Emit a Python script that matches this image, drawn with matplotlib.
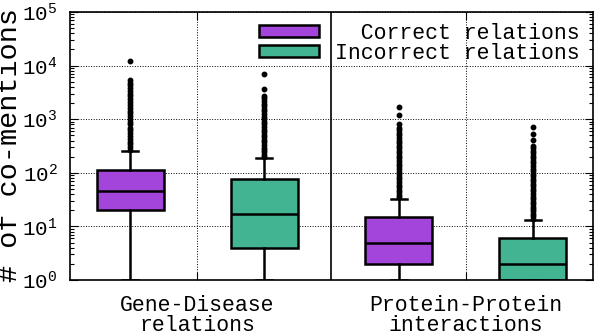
import matplotlib
matplotlib.use('Agg')
import matplotlib.pyplot as plt
from matplotlib.patches import Patch

plt.rcParams['font.family'] = ['Liberation Mono', 'DejaVu Sans Mono']

# categories and series
groups = ['Gene-Disease\nrelations', 'Protein-Protein\ninteractions']
series = ['Correct relations', 'Incorrect relations']
colors = ['#a344db', '#43b491']

# box statistics (order: GD correct, GD incorrect, PP correct, PP incorrect)
q1 = [20, 4, 2, 1]
med = [46, 17, 5, 2]
q3 = [115, 75, 15, 6]
whislo = [1, 1, 1, 1]
whishi = [260, 185, 33, 13]
fliers = [
    [270, 300, 340, 380, 430, 490, 550, 620, 700, 800, 900, 1000, 1150, 1300,
     1450, 1650, 1850, 2100, 2400, 2700, 3000, 3400, 3800, 4300, 4800, 5300, 12000],
    [195, 215, 240, 265, 295, 330, 370, 410, 460, 510, 570, 640, 710, 800, 890,
     1000, 1120, 1250, 1400, 1550, 1750, 1950, 2200, 2450, 2700, 3600, 6900],
    [35, 39, 43, 48, 54, 60, 67, 75, 84, 94, 105, 118, 132, 148, 165, 185, 205,
     230, 260, 290, 320, 360, 400, 450, 500, 560, 630, 700, 830, 1180, 1690],
    [14, 15.5, 17, 19, 21, 23.5, 26, 29, 32, 36, 40, 45, 50, 56, 62, 70, 78, 87,
     97, 108, 120, 135, 150, 165, 185, 205, 230, 255, 285, 320, 410, 520, 710],
]

stats = []
for i in range(4):
    stats.append({'q1': q1[i], 'med': med[i], 'q3': q3[i],
                  'whislo': whislo[i], 'whishi': whishi[i], 'fliers': fliers[i]})

fig = plt.figure(figsize=(5.96, 3.31), dpi=100)
ax = fig.add_axes([70 / 596, 51 / 331, 523 / 596, 268 / 331])

lw = 1.8
bp = ax.bxp(stats, positions=[1, 2, 3, 4], widths=0.5, patch_artist=True,
            capwidths=0.12,
            boxprops=dict(linewidth=lw, edgecolor='black'),
            medianprops=dict(linewidth=lw, color='black'),
            whiskerprops=dict(linewidth=lw, color='black'),
            capprops=dict(linewidth=lw, color='black'),
            flierprops=dict(marker='o', markersize=3.2, markerfacecolor='black',
                            markeredgecolor='black'))
for i, box in enumerate(bp['boxes']):
    box.set_facecolor(colors[i % 2])

ax.set_yscale('log')
ax.set_ylim(1, 1e5)
ax.set_xlim(0.55, 4.45)
ax.set_xticks([1.5, 3.5])
ax.set_xticklabels(groups, linespacing=0.95)
ax.axvline(2.5, color='black', linewidth=1.2)

ax.grid(True, which='major', linestyle=':', color='black', linewidth=0.7)
ax.set_axisbelow(True)
ax.tick_params(which='both', direction='in', top=True, right=True, width=0.8)
ax.tick_params(which='major', length=6)
ax.tick_params(which='minor', length=3)
ax.tick_params(axis='y', labelsize=15, pad=9)
ax.tick_params(axis='x', labelsize=15.5, pad=11)
for s in ax.spines.values():
    s.set_linewidth(1.2)

handles = [Patch(facecolor=colors[0], edgecolor='black', linewidth=lw),
           Patch(facecolor=colors[1], edgecolor='black', linewidth=lw)]
ax.legend(handles, ['  ' + series[0], series[1]], loc='upper right',
          bbox_to_anchor=(0.975, 0.96), frameon=False, fontsize=15.5,
          handlelength=2.8, handleheight=0.45, handletextpad=0.75,
          labelspacing=-0.05, borderaxespad=0, borderpad=0)

fig.text(10 / 596, 1 - 145.5 / 331, '# of co-mentions', rotation=90,
         ha='center', va='center', fontsize=20.5)

fig.savefig('out.png', dpi=100)
